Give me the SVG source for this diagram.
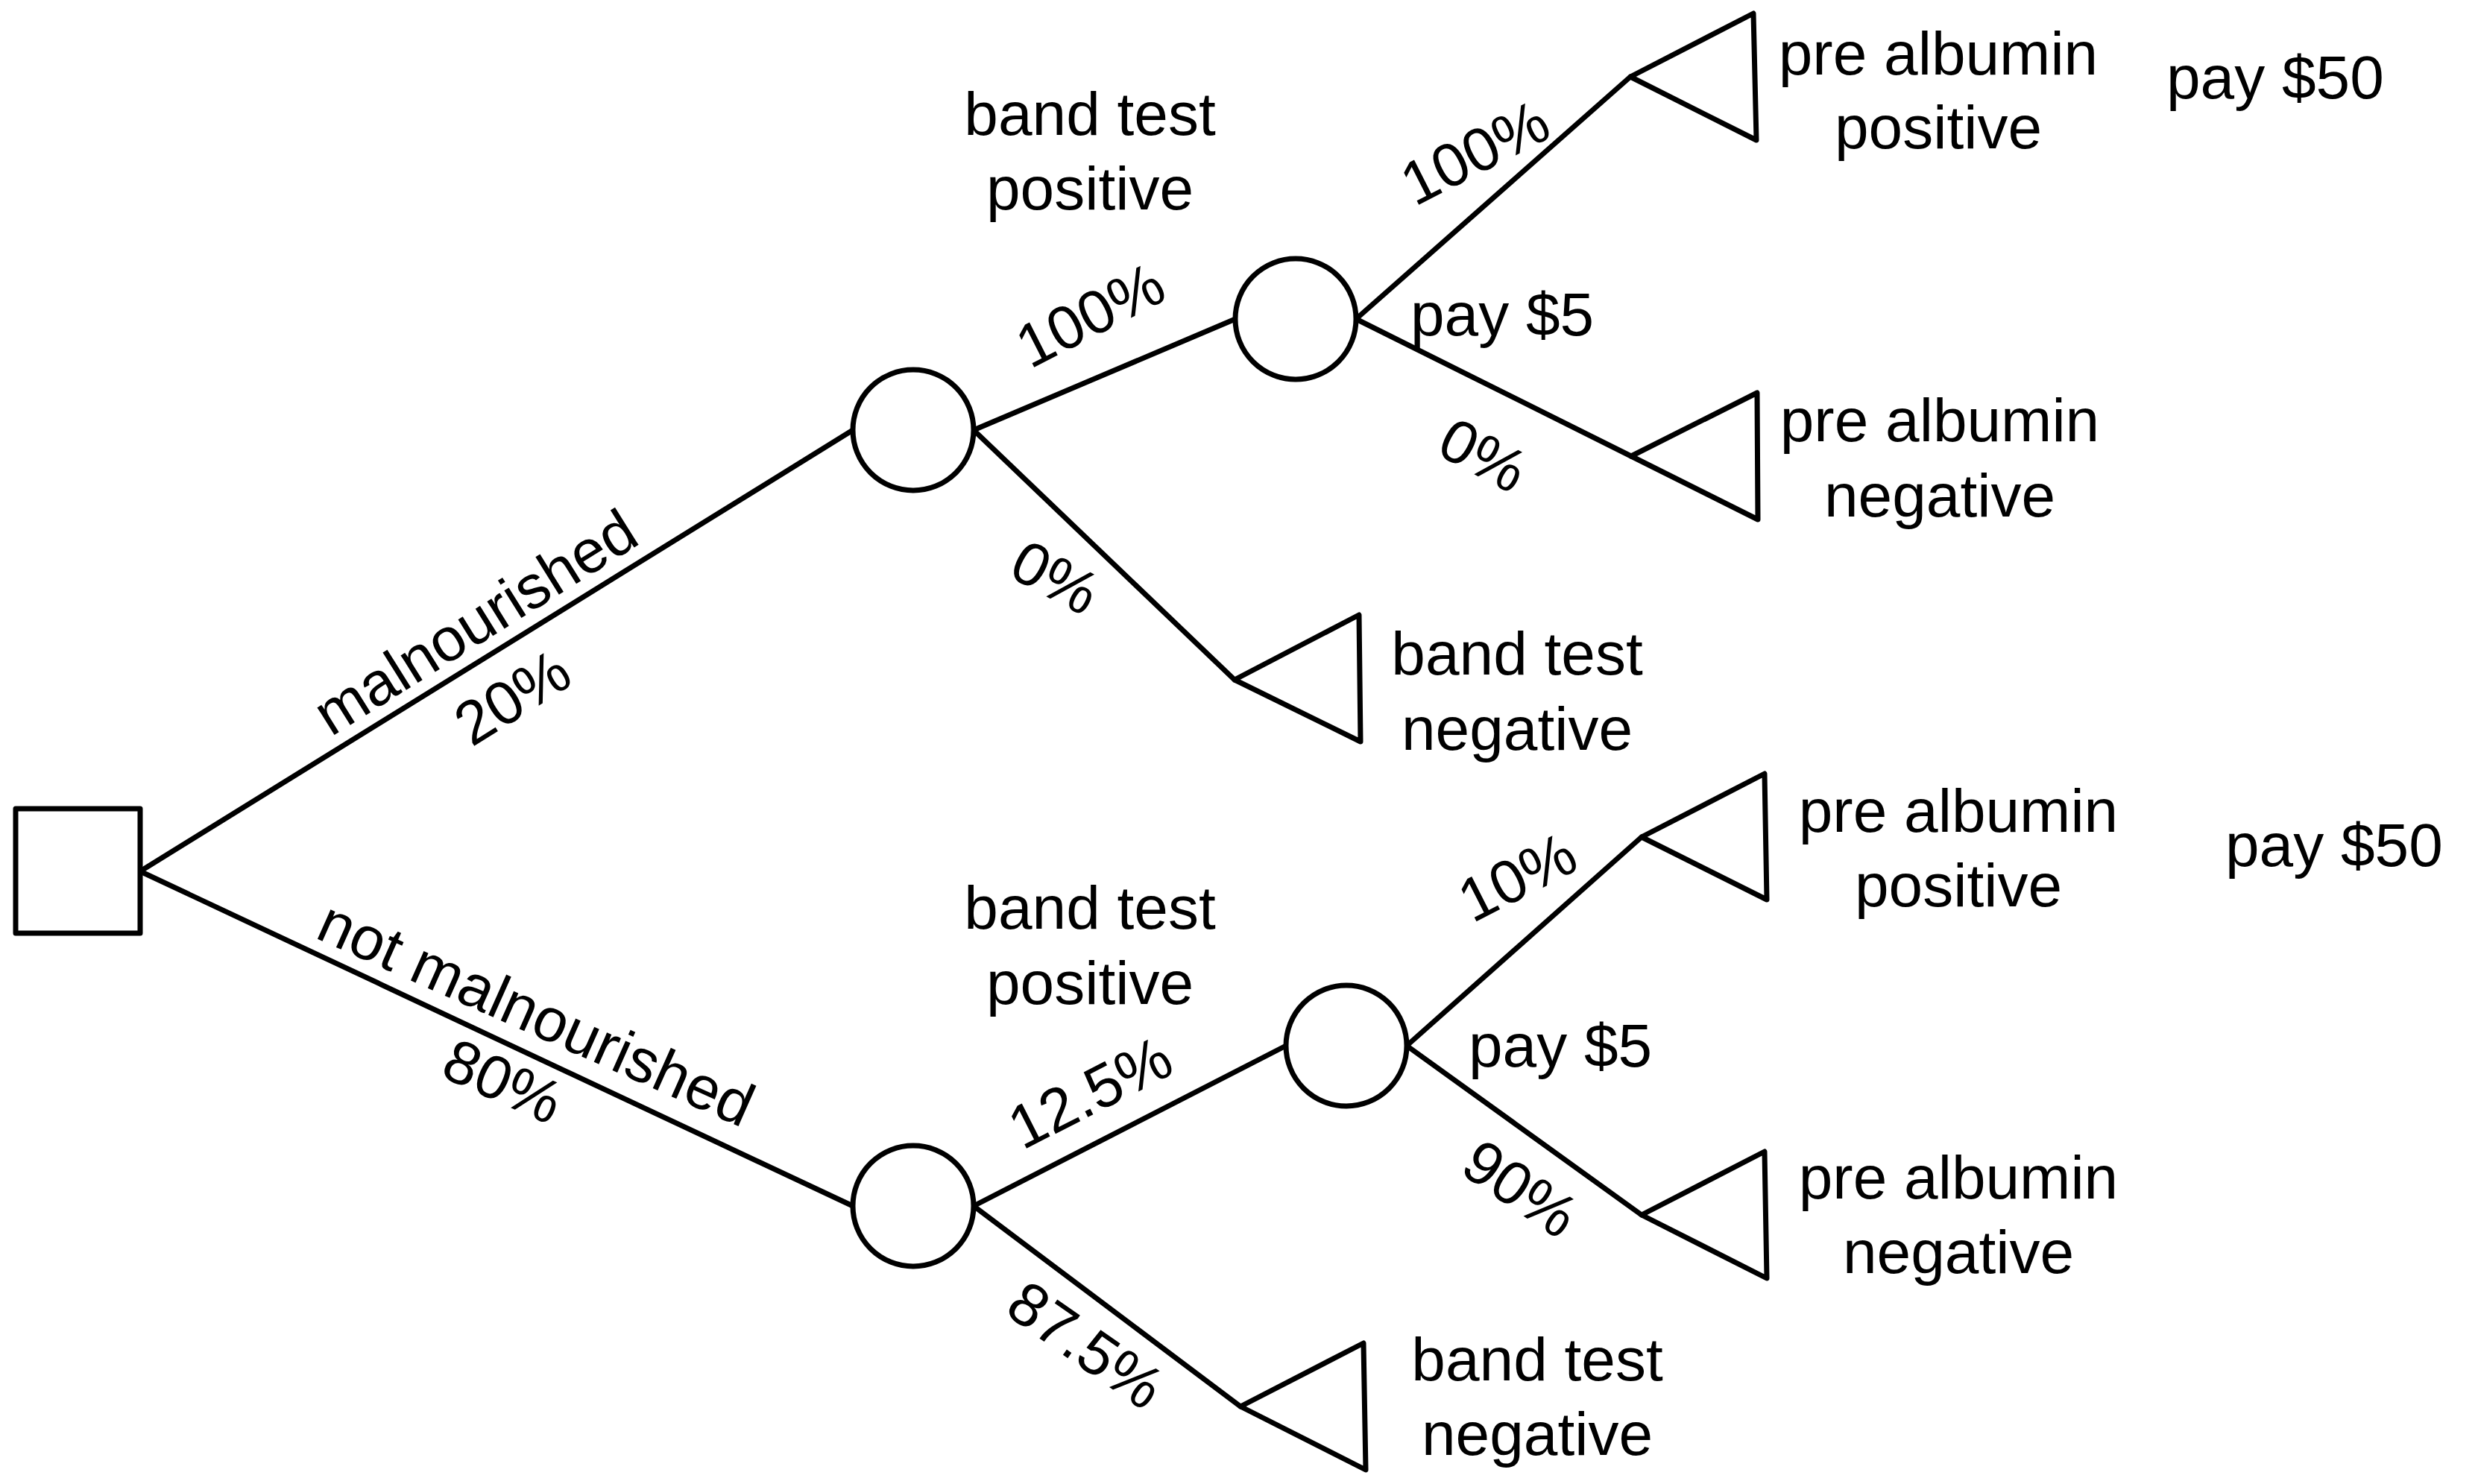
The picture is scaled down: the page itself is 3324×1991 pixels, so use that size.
<svg xmlns="http://www.w3.org/2000/svg" width="3324" height="1991" viewBox="0 0 3324 1991">
<style>
.ln{stroke:#000;stroke-width:7;fill:none;stroke-linecap:round}
.sh{fill:#fff;stroke:#000;stroke-width:7;stroke-linejoin:round}
text{font-family:"Liberation Sans",Arial,Helvetica,sans-serif;font-size:82px;fill:#000}
.m{text-anchor:middle}
</style>
<rect width="3324" height="1991" fill="#fff"/>
<g id="connectors">
<line class="ln" x1="188" y1="1169" x2="1144" y2="577"/>
<line class="ln" x1="188" y1="1169" x2="1144" y2="1618"/>
<line class="ln" x1="1306" y1="577" x2="1657" y2="428"/>
<line class="ln" x1="1306" y1="577" x2="1656" y2="912"/>
<line class="ln" x1="1819" y1="428" x2="2187" y2="103"/>
<line class="ln" x1="1819" y1="428" x2="2188" y2="612"/>
<line class="ln" x1="1306" y1="1618" x2="1725" y2="1403"/>
<line class="ln" x1="1306" y1="1618" x2="1664" y2="1887"/>
<line class="ln" x1="1887" y1="1403" x2="2202" y2="1123"/>
<line class="ln" x1="1887" y1="1403" x2="2202" y2="1630"/>
<text class="m" transform="translate(637,834) rotate(-32)" y="29">malnourished</text>
<text class="m" transform="translate(687,935) rotate(-32)" y="29">20%</text>
<text class="m" transform="translate(720,1359) rotate(24)" y="29">not malnourished</text>
<text class="m" transform="translate(675,1450) rotate(24)" y="29">80%</text>
<text class="m" transform="translate(1462,422) rotate(-27)" y="29">100%</text>
<text class="m" transform="translate(1416,774) rotate(28)" y="29">0%</text>
<text class="m" transform="translate(1978,204) rotate(-27)" y="29">100%</text>
<text class="m" transform="translate(1990,610) rotate(28)" y="29">0%</text>
<text class="m" transform="translate(1462,1465) rotate(-27)" y="29">12.5%</text>
<text class="m" transform="translate(1457,1804) rotate(35)" y="29">87.5%</text>
<text class="m" transform="translate(2035,1176) rotate(-27)" y="29">10%</text>
<text class="m" transform="translate(2040,1594) rotate(34)" y="29">90%</text>
</g>
<g id="decision">
<rect class="sh" x="21" y="1085" width="167" height="167"/>
</g>
<g id="chance-malnourished">
<circle class="sh" cx="1225" cy="577" r="81"/>
</g>
<g id="chance-bandpos-mal">
<circle class="sh" cx="1738" cy="428" r="81"/>
<text class="m" x="1462" y="181">band test</text>
<text class="m" x="1462" y="281">positive</text>
<text x="1892" y="450">pay $5</text>
</g>
<g id="chance-notmal">
<circle class="sh" cx="1225" cy="1618" r="81"/>
</g>
<g id="chance-bandpos-notmal">
<circle class="sh" cx="1806" cy="1403" r="81"/>
<text class="m" x="1462" y="1246">band test</text>
<text class="m" x="1462" y="1347">positive</text>
<text x="1970" y="1431">pay $5</text>
</g>
<g id="end-prealb-pos-1">
<polygon class="sh" points="2187,103 2352,18 2356,188"/>
<text class="m" x="2600" y="100">pre albumin</text>
<text class="m" x="2600" y="199">positive</text>
<text x="2906" y="132">pay $50</text>
</g>
<g id="end-prealb-neg-1">
<polygon class="sh" points="2188,612 2357,527 2358,697"/>
<text class="m" x="2602" y="592">pre albumin</text>
<text class="m" x="2602" y="693">negative</text>
</g>
<g id="end-bandneg-1">
<polygon class="sh" points="1656,912 1823,825 1825,995"/>
<text class="m" x="2035" y="905">band test</text>
<text class="m" x="2035" y="1006">negative</text>
</g>
<g id="end-prealb-pos-2">
<polygon class="sh" points="2202,1123 2367,1038 2370,1207"/>
<text class="m" x="2627" y="1116">pre albumin</text>
<text class="m" x="2627" y="1216">positive</text>
<text x="2985" y="1162">pay $50</text>
</g>
<g id="end-prealb-neg-2">
<polygon class="sh" points="2202,1630 2367,1545 2370,1715"/>
<text class="m" x="2627" y="1608">pre albumin</text>
<text class="m" x="2627" y="1708">negative</text>
</g>
<g id="end-bandneg-2">
<polygon class="sh" points="1664,1887 1829,1802 1832,1972"/>
<text class="m" x="2062" y="1852">band test</text>
<text class="m" x="2062" y="1952">negative</text>
</g>
</svg>
